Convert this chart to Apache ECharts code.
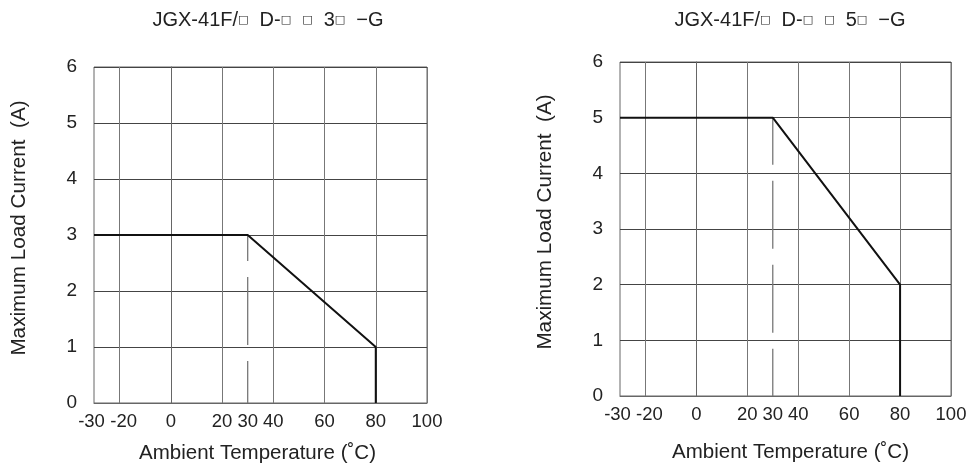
<!DOCTYPE html>
<html>
<head>
<meta charset="utf-8">
<script src="https://cdn.jsdelivr.net/npm/echarts@6/dist/echarts.min.js"></script>
<style>
html,body{margin:0;padding:0;background:#fff;}
#c{width:974px;height:470px;}
</style>
</head>
<body>
<div id="c"></div>
<script>
// ---- data ----
const xTickLabels = [-30, -20, 0, 20, 30, 40, 60, 80, 100];
const yTickLabels = [0, 1, 2, 3, 4, 5, 6];
const leftTitle = 'JGX-41F/{s|□}  D-{s|□}  {s|□}  3{s|□}  −G';
const rightTitle = 'JGX-41F/{s|□}  D-{s|□}  {s|□}  5{s|□}  −G';
const xName = 'Ambient Temperature (˚C)';
const yName = 'Maximum Load Current  (A)';
const leftCurve = [[-30, 3], [30, 3], [80, 1], [80, 0]];
const leftKnee = [[30, 3], [30, 0]];
const rightCurve = [[-30, 5], [30, 5], [80, 2], [80, 0]];
const rightKnee = [[30, 5], [30, 0]];

const FONT = 'Liberation Sans, Arial, sans-serif';
const TXT = '#222';
const X_MIN = xTickLabels[0];
const X_MAX = xTickLabels[xTickLabels.length - 1];

// main x axis: grid lines and every tick label except the minimum
function xAxis(gi, gap, pad) {
  return {
    type: 'value', gridIndex: gi, min: X_MIN, max: X_MAX, interval: 10, position: 'bottom',
    name: xName, nameLocation: 'middle', nameGap: gap,
    nameTextStyle: { fontFamily: FONT, fontSize: 20.5, color: TXT, padding: pad },
    axisLine: { show: true, lineStyle: { color: '#666', width: 1 } },
    axisTick: { show: false },
    axisLabel: {
      margin: 9, fontFamily: FONT, fontSize: 18.5, color: TXT,
      showMaxLabel: true, hideOverlap: false,
      formatter: v => (v !== X_MIN && xTickLabels.indexOf(v) >= 0)
        ? (v === -20 ? '{r|' + v + '}' : String(v)) : '',
      rich: { r: { padding: [0, 0, 0, 8], fontFamily: FONT, fontSize: 18.5, color: TXT } }
    },
    splitLine: { show: true, lineStyle: { color: ['rgba(0,0,0,0)', '#777'], width: 1 } }
  };
}
// overlay x axis carrying only the minimum label
function xAxisMin(gi) {
  return {
    type: 'value', gridIndex: gi, min: X_MIN, max: X_MAX, interval: 10, position: 'bottom', offset: 0,
    axisLine: { show: false }, axisTick: { show: false }, splitLine: { show: false },
    axisLabel: {
      margin: 9, fontFamily: FONT, fontSize: 18.5, color: TXT,
      showMinLabel: true, showMaxLabel: false,
      formatter: v => v === X_MIN ? '{l|' + v + '}' : '',
      rich: { l: { padding: [0, 5, 0, 0], fontFamily: FONT, fontSize: 18.5, color: TXT } }
    }
  };
}
function yAxis(gi) {
  return {
    type: 'value', gridIndex: gi, min: 0, max: 6, interval: 1,
    name: yName, nameLocation: 'middle', nameGap: 64, nameRotate: 90,
    nameTextStyle: { fontFamily: FONT, fontSize: 20.7, color: TXT, padding: [0, 0, 0, 14] },
    axisLine: { show: true, lineStyle: { color: '#666', width: 1 } },
    axisTick: { show: false },
    axisLabel: {
      margin: 17, fontFamily: FONT, fontSize: 19, color: TXT,
      showMinLabel: true, showMaxLabel: true,
      formatter: v => yTickLabels.indexOf(v) >= 0 ? String(v) : ''
    },
    splitLine: { show: true, lineStyle: { color: '#444', width: 1 } }
  };
}
function curve(data, xi) {
  return {
    type: 'line', data: data, xAxisIndex: xi, yAxisIndex: xi,
    showSymbol: false, symbol: 'none', silent: true, z: 5,
    lineStyle: { color: '#111', width: 2 }
  };
}
function knee(data, xi, offset) {
  return {
    type: 'line', data: data, xAxisIndex: xi, yAxisIndex: xi,
    showSymbol: false, symbol: 'none', silent: true, z: 3,
    lineStyle: { color: '#777', width: 1.3, type: [68, 16], dashOffset: offset }
  };
}
function title(text, x) {
  return {
    text: text, left: x, top: 5, textAlign: 'center',
    textStyle: { fontFamily: FONT, fontSize: 20, fontWeight: 'normal', color: TXT,
      rich: { s: { fontSize: 11, fontFamily: 'DejaVu Sans', color: TXT } } }
  };
}

const chart = echarts.init(document.getElementById('c'));
chart.setOption({
  animation: false,
  backgroundColor: '#fff',
  title: [title(leftTitle, 263), title(rightTitle, 785)],
  grid: [
    { left: 94, top: 67, width: 333, height: 336, show: true, borderColor: '#666', borderWidth: 1, outerBoundsMode: 'none', containLabel: false },
    { left: 620, top: 62, width: 331, height: 334, show: true, borderColor: '#666', borderWidth: 1, outerBoundsMode: 'none', containLabel: false }
  ],
  xAxis: [xAxis(0, 40, [0, 6, 0, 0]), xAxis(1, 46, [0, 0, 0, 10]), xAxisMin(0), xAxisMin(1)],
  yAxis: [yAxis(0), yAxis(1)],
  series: [
    knee(leftKnee, 0, 42),
    curve(leftCurve, 0),
    knee(rightKnee, 1, 21),
    curve(rightCurve, 1)
  ]
});
</script>
</body>
</html>
